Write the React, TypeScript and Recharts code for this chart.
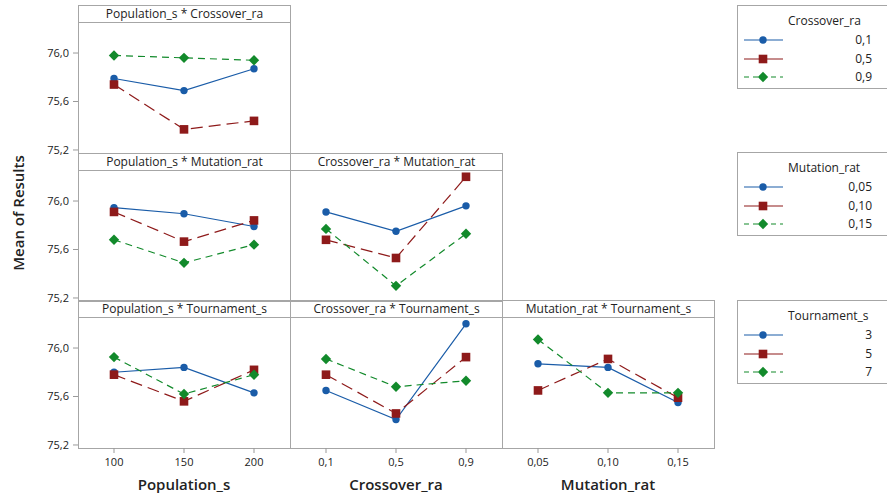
import { LineChart, Line, XAxis, YAxis } from "recharts";

const populationLevels = ["100", "150", "200"];
const crossoverLevels = ["0,1", "0,5", "0,9"];
const mutationLevels = ["0,05", "0,10", "0,15"];
const tournamentLevels = ["3", "5", "7"];

// Population_s * Crossover_ra (one array per Crossover_ra level)
const popCross01 = [75.79, 75.69, 75.87];
const popCross05 = [75.74, 75.37, 75.44];
const popCross09 = [75.98, 75.96, 75.94];

// Population_s * Mutation_rat
const popMut005 = [75.945, 75.895, 75.79];
const popMut010 = [75.91, 75.665, 75.84];
const popMut015 = [75.68, 75.49, 75.64];

// Crossover_ra * Mutation_rat
const crossMut005 = [75.91, 75.75, 75.96];
const crossMut010 = [75.68, 75.53, 76.2];
const crossMut015 = [75.77, 75.3, 75.73];

// Population_s * Tournament_s
const popTour3 = [75.8, 75.84, 75.63];
const popTour5 = [75.78, 75.56, 75.82];
const popTour7 = [75.925, 75.62, 75.78];

// Crossover_ra * Tournament_s
const crossTour3 = [75.65, 75.41, 76.2];
const crossTour5 = [75.78, 75.46, 75.925];
const crossTour7 = [75.91, 75.68, 75.73];

// Mutation_rat * Tournament_s
const mutTour3 = [75.87, 75.84, 75.55];
const mutTour5 = [75.65, 75.91, 75.59];
const mutTour7 = [76.07, 75.63, 75.63];

const yTicks = [75.2, 75.6, 76.0];

const FONT = "'Open Sans', 'Noto Sans', sans-serif";
const BORDER = "#a6a6a6";
const Y_DOMAIN: [number, number] = [75.175, 76.256];

const SERIES = [
  { color: "#1a5ca8", dash: undefined as string | undefined, shape: "circle" },
  { color: "#8e1a1a", dash: "12 6", shape: "square" },
  { color: "#128a2b", dash: "7 5", shape: "diamond" },
];

const COL_X = [78, 290, 502];
const ROW_Y = [5, 153, 300];
const PANEL_W = 212;
const TITLE_H = 17;
const PLOT_H = 131;
const Y_W = 78;
const X_H = 46;

const fmt = (v: number) => v.toFixed(1).replace(".", ",");

function Marker({ shape, cx, cy, color }: any) {
  if (cx == null || cy == null) return null;
  if (shape === "circle") return <circle cx={cx} cy={cy} r={3.7} fill={color} />;
  if (shape === "square")
    return <rect x={cx - 4.3} y={cy - 4.3} width={8.6} height={8.6} fill={color} />;
  return (
    <polygon
      points={`${cx},${cy - 5.2} ${cx + 5.2},${cy} ${cx},${cy + 5.2} ${cx - 5.2},${cy}`}
      fill={color}
    />
  );
}

function Panel({ col, row, title, levels, values, yAxis, xTitle }: any) {
  const left = COL_X[col];
  const top = ROW_Y[row];
  const data = levels.map((lv: string, i: number) => ({
    level: lv,
    s0: values[0][i],
    s1: values[1][i],
    s2: values[2][i],
  }));
  const chartLeft = yAxis ? left - Y_W : left;
  const chartW = PANEL_W + (yAxis ? Y_W : 0);
  const chartH = PLOT_H + (xTitle ? X_H : 0);

  return (
    <>
      <div
        style={{
          position: "absolute",
          left,
          top,
          width: PANEL_W + 1,
          height: TITLE_H + PLOT_H + 1,
          border: `1px solid ${BORDER}`,
          boxSizing: "border-box",
        }}
      />
      <div
        style={{
          position: "absolute",
          left,
          top,
          width: PANEL_W + 1,
          height: TITLE_H + 1,
          borderBottom: `1px solid ${BORDER}`,
          boxSizing: "border-box",
          textAlign: "center",
          fontSize: 12,
          lineHeight: `${TITLE_H}px`,
          color: "#222",
          whiteSpace: "nowrap",
        }}
      >
        {title}
      </div>
      <div style={{ position: "absolute", left: chartLeft, top: top + TITLE_H }}>
        <LineChart
          width={chartW}
          height={chartH}
          data={data}
          margin={{ top: 0, right: 0, bottom: 0, left: 0 }}
        >
          {xTitle ? (
            <XAxis
              dataKey="level"
              height={X_H}
              padding={{ left: 36, right: 36 }}
              interval={0}
              axisLine={false}
              tickSize={5}
              tickMargin={5}
              tickLine={{ stroke: "#999" }}
              tick={{ fontSize: 11, fill: "#222", fontFamily: FONT }}
              label={{
                value: xTitle,
                position: "insideBottom",
                offset: 4,
                style: { fontSize: 15, fontWeight: 600, fill: "#222", fontFamily: FONT },
              }}
            />
          ) : (
            <XAxis dataKey="level" hide padding={{ left: 36, right: 36 }} />
          )}
          {yAxis ? (
            <YAxis
              type="number"
              domain={Y_DOMAIN}
              allowDataOverflow
              ticks={yTicks}
              interval={0}
              width={Y_W}
              axisLine={false}
              tickSize={5}
              tickMargin={4}
              tickLine={{ stroke: "#999" }}
              tickFormatter={fmt}
              tick={{ fontSize: 11, fill: "#222", fontFamily: FONT }}
            />
          ) : (
            <YAxis type="number" hide domain={Y_DOMAIN} allowDataOverflow />
          )}
          {SERIES.map((s, k) => (
            <Line
              key={k}
              dataKey={`s${k}`}
              type="linear"
              stroke={s.color}
              strokeWidth={1.2}
              strokeDasharray={s.dash}
              activeDot={false}
              isAnimationActive={false}
              dot={(p: any) => (
                <Marker key={`${k}-${p.index}`} shape={s.shape} cx={p.cx} cy={p.cy} color={s.color} />
              )}
            />
          ))}
        </LineChart>
      </div>
    </>
  );
}

function LegendBox({ top, title, labels }: any) {
  return (
    <div
      style={{
        position: "absolute",
        left: 737,
        top,
        width: 170,
        height: 84,
        border: `1px solid ${BORDER}`,
        boxSizing: "border-box",
        fontSize: 12,
        color: "#222",
      }}
    >
      <div style={{ position: "absolute", left: 50, top: 6, lineHeight: "18px", whiteSpace: "nowrap" }}>
        {title}
      </div>
      {labels.map((lb: string, k: number) => {
        const s = SERIES[k];
        const cy = 34 + k * 18.5;
        return (
          <div key={k}>
            <svg
              style={{ position: "absolute", left: 5, top: cy - 8 }}
              width={44}
              height={16}
            >
              <line x1={1} y1={8} x2={40} y2={8} stroke={s.color} strokeWidth={1.2} strokeDasharray={s.dash ? (k === 1 ? "14 0" : "5 4") : undefined} />
              <Marker shape={s.shape} cx={20} cy={8} color={s.color} />
            </svg>
            <div
              style={{
                position: "absolute",
                right: 34,
                top: cy - 9,
                lineHeight: "18px",
                textAlign: "right",
              }}
            >
              {lb}
            </div>
          </div>
        );
      })}
    </div>
  );
}

export default function App() {
  return (
    <div
      style={{
        position: "absolute",
        left: 0,
        top: 0,
        width: 887,
        height: 499,
        overflow: "hidden",
        background: "#fff",
        fontFamily: FONT,
      }}
    >
      <style>{".recharts-surface{overflow:visible}"}</style>
      <Panel col={0} row={0} title="Population_s * Crossover_ra" levels={populationLevels}
        values={[popCross01, popCross05, popCross09]} yAxis />
      <Panel col={0} row={1} title="Population_s * Mutation_rat" levels={populationLevels}
        values={[popMut005, popMut010, popMut015]} yAxis />
      <Panel col={1} row={1} title="Crossover_ra * Mutation_rat" levels={crossoverLevels}
        values={[crossMut005, crossMut010, crossMut015]} />
      <Panel col={0} row={2} title="Population_s * Tournament_s" levels={populationLevels}
        values={[popTour3, popTour5, popTour7]} yAxis xTitle="Population_s" />
      <Panel col={1} row={2} title="Crossover_ra * Tournament_s" levels={crossoverLevels}
        values={[crossTour3, crossTour5, crossTour7]} xTitle="Crossover_ra" />
      <Panel col={2} row={2} title="Mutation_rat * Tournament_s" levels={mutationLevels}
        values={[mutTour3, mutTour5, mutTour7]} xTitle="Mutation_rat" />

      <div
        style={{
          position: "absolute",
          left: 18,
          top: 213,
          transform: "translate(-50%, -50%) rotate(-90deg)",
          fontSize: 15,
          fontWeight: 600,
          color: "#222",
          whiteSpace: "nowrap",
        }}
      >
        Mean of Results
      </div>

      <LegendBox top={5} title="Crossover_ra" labels={crossoverLevels} />
      <LegendBox top={152} title="Mutation_rat" labels={mutationLevels} />
      <LegendBox top={300} title="Tournament_s" labels={tournamentLevels} />
    </div>
  );
}
